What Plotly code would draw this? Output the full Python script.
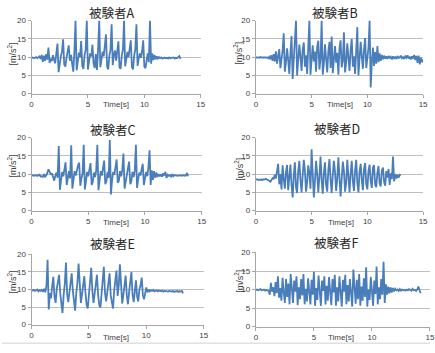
import plotly.graph_objects as go

# ---------------- data (sampled every 0.1 s, starting at 0 s) ----------------
subjects = ["被験者A", "被験者B", "被験者C", "被験者D", "被験者E", "被験者F"]
x_ticks = [0, 5, 10, 15]
y_ticks = [0, 5, 10, 15, 20]
dt = 0.1

acc_A = [9.8, 9.9, 9.7, 9.8, 10.0, 9.7, 9.9, 10.2, 9.5, 10.6,
         8.7, 10.4, 9.0, 10.8, 9.3, 12.6, 8.4, 9.6, 8.9, 10.5,
         9.2, 8.3, 11.0, 13.7, 5.9, 8.5, 10.2, 11.5, 14.9, 8.0,
         7.4, 9.8, 11.2, 13.2, 9.0, 10.6, 8.2, 6.0, 11.5, 20.0,
         6.4, 9.0, 11.2, 10.0, 14.4, 7.6, 6.8, 10.5, 12.0, 20.0,
         6.6, 8.8, 11.0, 10.2, 13.4, 8.2, 7.0, 10.8, 6.5, 12.0,
         20.0, 7.2, 9.5, 11.5, 10.2, 12.5, 16.2, 7.4, 6.6, 10.4,
         12.0, 19.0, 7.8, 10.6, 11.8, 9.0, 11.5, 14.3, 7.2, 6.8,
         10.5, 12.0, 20.0, 7.5, 9.4, 11.4, 10.0, 12.5, 14.6, 7.2,
         6.7, 10.4, 12.2, 19.0, 7.6, 9.5, 11.0, 9.8, 11.6, 14.6,
         7.4, 7.0, 9.8, 11.0, 8.6, 20.0, 8.2, 11.0, 9.2, 10.6,
         9.4, 10.2, 9.6, 10.0, 9.7, 9.9, 9.6, 9.8, 9.9, 9.7,
         9.8, 9.6, 9.9, 9.7, 9.8, 9.7, 9.9, 9.6, 9.8, 9.7,
         9.9, 10.3, 9.5]

acc_B = [9.9, 10.0, 9.9, 9.8, 10.0, 9.9, 9.9, 9.8, 10.0, 9.8,
         9.9, 9.7, 10.1, 9.4, 10.5, 9.0, 10.8, 8.8, 11.6, 8.2,
         10.6, 12.2, 7.0, 9.0, 11.8, 16.5, 6.0, 8.5, 12.4, 9.2,
         5.4, 11.0, 15.8, 4.0, 9.5, 12.5, 20.0, 5.0, 8.6, 13.4,
         10.2, 6.2, 12.0, 14.0, 7.4, 10.5, 5.4, 12.5, 20.0, 5.2,
         9.2, 13.2, 8.8, 11.5, 6.0, 12.8, 14.5, 6.6, 9.5, 20.0,
         5.2, 8.2, 13.5, 10.0, 5.8, 11.5, 14.2, 7.0, 15.6, 5.6,
         9.8, 13.0, 8.5, 11.2, 5.2, 12.4, 14.6, 7.2, 9.0, 16.8,
         5.8, 8.6, 13.8, 10.5, 6.2, 12.0, 15.0, 7.4, 10.2, 5.4,
         12.0, 18.2, 5.0, 9.2, 14.2, 10.4, 6.8, 12.0, 15.2, 7.0,
         9.5, 12.5, 20.0, 1.7, 8.5, 12.6, 7.6, 11.4, 8.2, 13.0,
         8.6, 11.0, 9.0, 10.6, 9.4, 10.4, 9.6, 10.2, 9.5, 10.3,
         9.8, 10.1, 9.4, 10.2, 9.7, 10.0, 9.5, 10.3, 9.8, 9.9,
         10.4, 9.7, 10.0, 9.5, 10.2, 9.8, 10.5, 9.6, 10.0, 9.4,
         10.2, 9.6, 10.6, 9.2, 10.3, 8.4, 10.4, 8.0, 9.8, 8.6,
         9.4]

acc_C = [9.6, 9.7, 9.5, 9.6, 9.7, 9.5, 9.6, 9.8, 9.3, 9.4,
         9.2, 10.0, 9.3, 9.6, 10.4, 11.3, 10.6, 9.8, 10.2, 8.8,
         8.2, 9.5, 10.4, 9.0, 17.7, 5.7, 8.4, 10.6, 9.4, 11.4,
         13.2, 7.0, 8.6, 10.8, 8.8, 17.9, 6.0, 8.2, 10.8, 9.6,
         11.2, 12.4, 13.1, 6.8, 8.8, 10.2, 18.0, 5.8, 8.0, 10.6,
         9.4, 11.5, 13.0, 7.0, 7.8, 10.4, 9.2, 11.0, 18.0, 5.6,
         8.2, 10.8, 9.6, 12.0, 13.7, 7.2, 8.0, 10.6, 9.0, 19.3,
         4.4, 8.4, 10.6, 9.8, 11.8, 14.0, 7.6, 8.2, 10.8, 9.4,
         11.2, 15.6, 6.0, 8.4, 10.4, 11.6, 13.4, 7.2, 8.0, 10.6,
         9.2, 11.0, 18.0, 6.2, 8.6, 10.4, 9.6, 11.4, 12.8, 7.0,
         8.6, 10.6, 9.4, 11.8, 16.5, 7.0, 11.0, 8.4, 10.8, 9.0,
         10.4, 9.2, 10.0, 9.4, 9.9, 9.3, 10.2, 9.6, 10.6, 8.9,
         9.8, 9.5, 9.7, 9.3, 10.0, 9.4, 9.7, 9.6, 9.7, 9.5,
         9.6, 9.7, 9.5, 9.6, 9.7, 9.5, 9.6, 10.3, 9.4]

acc_D = [8.5, 8.6, 8.4, 8.5, 8.6, 8.5, 8.4, 8.6, 8.5, 8.7,
         8.5, 8.4, 8.2, 7.9, 8.3, 8.9, 8.6, 9.8, 8.8, 10.6,
         12.8, 7.2, 10.0, 5.8, 12.4, 8.6, 6.0, 10.5, 12.5, 5.6,
         9.0, 12.6, 7.0, 3.6, 9.5, 13.2, 6.4, 4.8, 10.8, 13.6,
         8.4, 5.0, 9.6, 13.9, 11.0, 5.2, 7.8, 12.4, 10.2, 6.0,
         16.8, 9.0, 3.6, 8.0, 13.6, 10.0, 5.0, 9.4, 14.8, 8.2,
         4.6, 10.4, 13.2, 7.0, 5.2, 11.0, 14.1, 8.6, 4.8, 9.8,
         13.6, 10.6, 5.4, 8.6, 14.6, 9.0, 3.9, 8.8, 13.4, 10.8,
         5.2, 7.6, 13.9, 9.4, 5.0, 10.2, 13.6, 8.0, 5.4, 11.0,
         13.9, 7.6, 5.0, 10.6, 12.8, 8.4, 5.6, 11.4, 13.0, 7.2,
         5.8, 10.8, 12.6, 8.0, 6.2, 11.8, 12.4, 7.0, 6.4, 10.4,
         12.2, 7.4, 6.6, 11.0, 11.8, 7.8, 6.8, 10.8, 9.0, 11.4,
         7.0, 10.2, 8.6, 14.8, 8.0, 10.0, 8.8, 9.8, 9.0, 9.8,
         9.6]

acc_E = [9.8, 9.7, 9.9, 9.6, 9.8, 10.0, 9.5, 9.8, 9.6, 9.9,
         9.4, 10.2, 9.2, 11.0, 18.5, 4.3, 9.0, 7.5, 11.0, 13.6,
         8.0, 6.2, 10.2, 12.8, 14.2, 9.0, 6.0, 3.3, 8.5, 11.6,
         17.7, 8.8, 6.4, 9.8, 12.6, 14.6, 9.6, 6.8, 4.0, 9.0,
         12.0, 17.4, 9.2, 6.2, 8.6, 11.8, 13.8, 9.0, 5.6, 4.6,
         8.8, 12.4, 16.2, 9.6, 6.2, 8.8, 12.6, 14.2, 8.6, 5.6,
         4.8, 9.4, 12.2, 16.5, 9.0, 6.6, 9.2, 12.8, 14.6, 8.4,
         5.8, 4.6, 9.6, 12.0, 15.4, 8.2, 11.2, 17.2, 9.0, 6.0,
         8.4, 12.4, 14.0, 8.4, 5.8, 9.2, 12.2, 15.0, 8.6, 6.4,
         9.4, 12.6, 8.0, 6.6, 10.0, 11.2, 13.4, 8.4, 7.2, 9.6,
         10.6, 9.2, 10.0, 9.5, 9.8, 9.6, 9.9, 9.5, 9.7, 9.8,
         9.5, 9.7, 9.6, 9.5, 9.7, 9.4, 9.6, 9.5, 9.6, 9.4,
         9.6, 9.5, 9.4, 9.6, 9.3, 9.5, 9.4, 9.6, 9.3, 9.5,
         9.4, 9.6, 8.9]

acc_F = [9.9, 10.0, 9.8, 9.9, 10.1, 9.8, 9.9, 10.0, 9.7, 9.9,
         9.8, 9.6, 8.6, 11.8, 9.4, 10.6, 8.2, 12.0, 9.0, 13.6,
         7.8, 10.4, 7.0, 13.2, 9.2, 6.4, 12.8, 8.0, 11.6, 6.0,
         14.2, 8.8, 6.4, 12.4, 9.4, 13.6, 5.8, 10.6, 7.4, 12.8,
         8.4, 14.2, 6.0, 10.2, 6.8, 13.0, 9.0, 6.0, 12.6, 8.6,
         14.8, 5.6, 10.4, 7.2, 13.8, 8.0, 5.6, 12.4, 9.6, 13.6,
         6.0, 11.0, 7.0, 13.4, 8.4, 5.8, 12.8, 9.2, 14.0, 5.6,
         10.6, 6.8, 13.6, 8.0, 5.4, 12.6, 9.4, 14.0, 6.0, 11.2,
         6.8, 12.8, 8.4, 5.4, 15.4, 9.0, 6.2, 12.6, 7.4, 14.2,
         5.6, 10.8, 7.0, 13.0, 8.0, 16.0, 5.4, 10.0, 7.2, 13.4,
         8.2, 5.6, 12.4, 8.8, 16.2, 6.0, 10.6, 7.4, 12.8, 8.6,
         17.5, 6.4, 11.4, 8.6, 10.8, 9.0, 10.6, 9.2, 10.4, 9.5,
         10.2, 9.8, 10.0, 9.6, 10.1, 9.7, 10.0, 9.8, 9.9, 9.7,
         10.0, 9.8, 10.1, 9.9, 9.7, 10.2, 9.8, 9.9, 9.6, 10.0,
         10.8, 9.8, 9.0]

series = [acc_A, acc_B, acc_C, acc_D, acc_E, acc_F]

# ---------------- layout geometry (pixels) ----------------
W, H = 435, 353
# plot areas: (left, right, top, bottom)
boxes = [(30, 202, 17, 92), (258, 428, 17, 92),
         (30, 203, 137, 212), (258, 428, 137, 212),
         (30, 205, 257, 329), (258, 435, 255, 331)]
title_pos = [(112, 9), (338, 9), (113, 129), (340, 128), (112, 246), (340, 245)]
xlab_pos = [(116, 103), (344, 103), (116, 224), (345, 224), (116, 342), (345, 342)]
ylab_pos = [(10, 51), (240, 51), (10, 166), (241, 170), (10, 285), (241, 285)]

LINE = "#4a7ebb"
GRID = "#bfbfbf"
AXIS = "#a6a6a6"
TXT = "#404040"

fig = go.Figure()
annotations = []
layout = {}
for i, (name, ys) in enumerate(zip(subjects, series)):
    n = i + 1
    xa = "x" if n == 1 else f"x{n}"
    ya = "y" if n == 1 else f"y{n}"
    fig.add_trace(go.Scatter(
        y=ys, x0=0, dx=dt, mode="lines",
        line=dict(color=LINE, width=1.8),
        xaxis=xa, yaxis=ya, showlegend=False, hoverinfo="skip"))
    l, r, t, b = boxes[i]
    layout["xaxis" if n == 1 else f"xaxis{n}"] = dict(
        domain=[l / W, r / W], anchor=ya, range=[0, 15],
        tickvals=x_ticks, ticks="outside", ticklen=3, tickcolor=AXIS,
        showgrid=False, zeroline=False, showline=True, linecolor=AXIS,
        linewidth=1, tickfont=dict(size=8, color=TXT, family="Liberation Sans"))
    layout["yaxis" if n == 1 else f"yaxis{n}"] = dict(
        domain=[1 - b / H, 1 - t / H], anchor=xa, range=[0, 20],
        tickvals=y_ticks, ticks="outside", ticklen=3, tickcolor=AXIS,
        showgrid=True, gridcolor=GRID, gridwidth=1, zeroline=False,
        showline=True, linecolor=AXIS, linewidth=1,
        tickfont=dict(size=8, color=TXT, family="Liberation Sans"))
    tx, ty = title_pos[i]
    annotations.append(dict(text=name, x=tx / W, y=1 - ty / H, xref="paper",
                            yref="paper", showarrow=False, xanchor="center",
                            yanchor="middle",
                            font=dict(size=12.5, color="#262626",
                                      family="Noto Sans CJK JP")))
    lx, ly = xlab_pos[i]
    annotations.append(dict(text="Time[s]", x=lx / W, y=1 - ly / H, xref="paper",
                            yref="paper", showarrow=False, xanchor="center",
                            yanchor="middle",
                            font=dict(size=8, color=TXT, family="Liberation Sans")))
    vx, vy = ylab_pos[i]
    annotations.append(dict(text="[m/s<sup>2</sup>]", x=vx / W, y=1 - vy / H,
                            xref="paper", yref="paper", showarrow=False,
                            textangle=-90, xanchor="center", yanchor="middle",
                            font=dict(size=9, color=TXT, family="Liberation Sans")))

fig.update_layout(
    width=W, height=H, margin=dict(l=0, r=0, t=0, b=0),
    paper_bgcolor="white", plot_bgcolor="white",
    annotations=annotations,
    shapes=[dict(type="line", xref="paper", yref="paper", x0=0, x1=1,
                 y0=1 - 348 / H, y1=1 - 348 / H,
                 line=dict(color="#d0d0d0", width=1))],
    **layout)

fig.write_html("out.html")
